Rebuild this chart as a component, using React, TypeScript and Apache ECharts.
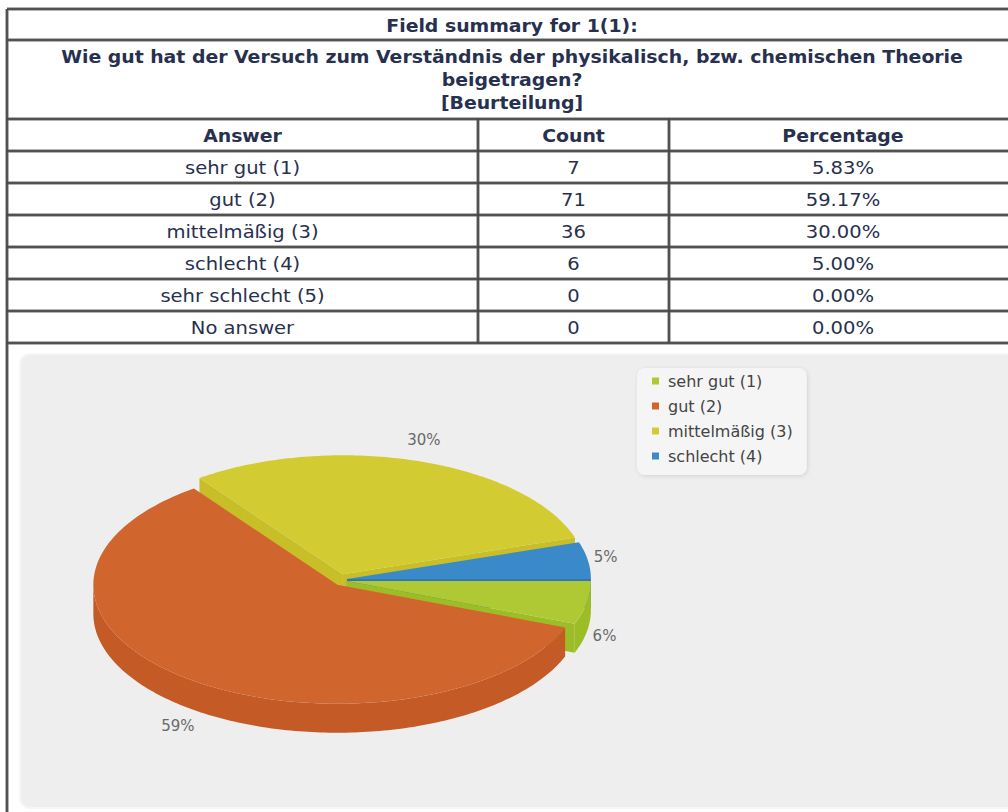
import React, { useEffect, useRef } from "react";
import * as echarts from "echarts";

// ---------- data ----------
const fieldTitle = "Field summary for 1(1):";
const questionLines = [
  "Wie gut hat der Versuch zum Verständnis der physikalisch, bzw. chemischen Theorie",
  "beigetragen?",
  "[Beurteilung]",
];
const headers = ["Answer", "Count", "Percentage"];
const answers = ["sehr gut (1)", "gut (2)", "mittelmäßig (3)", "schlecht (4)", "sehr schlecht (5)", "No answer"];
const counts = [7, 71, 36, 6, 0, 0];
const topColors = ["#afc935", "#d0652e", "#d3cb32", "#3a89c9"];
const sideColors = ["#9cbd26", "#c45a25", "#c7be28", "#2e77b5"];

// ---------- derived ----------
const total = counts.reduce((a, b) => a + b, 0);
const percentages = counts.map((c) => ((c / total) * 100).toFixed(2) + "%");
const pieIdx = counts.map((c, i) => i).filter((i) => counts[i] > 0);
const startAngles: number[] = [];
{
  let acc = 0;
  pieIdx.forEach((i) => {
    startAngles.push(acc);
    acc += (counts[i] / total) * 360;
  });
}

// ---------- layout ----------
const FONT = "DejaVu Sans";
const TEXT_COLOR = "#27304f";
const COL_X = [7, 478, 669, 1017];
const ROW_Y = [9, 40, 119, 151, 183, 215, 247, 279, 311, 343];
const CX = 341, CY = 580, RX = 244, RY = 119, DEPTH = 29, SPLICE = 6, LABEL_OFF = 18;

const rad = (d: number) => (d * Math.PI) / 180;

function makeRender(k: number) {
  return (params: any, api: any) => {
    const v = api.value(0);
    const a0 = startAngles[k];
    const a1 = a0 + (v / total) * 360;
    const m = rad((a0 + a1) / 2);
    const cx = CX + SPLICE * Math.cos(m);
    const cy = CY + SPLICE * Math.sin(m);
    const pt = (deg: number, dy = 0) => [cx + RX * Math.cos(rad(deg)), cy + RY * Math.sin(rad(deg)) + dy];
    const arc = (from: number, to: number, dy: number) => {
      const pts: number[][] = [];
      const n = Math.max(2, Math.ceil(Math.abs(to - from)));
      for (let i = 0; i <= n; i++) pts.push(pt(from + ((to - from) * i) / n, dy));
      return pts;
    };
    const side = sideColors[k];
    const children: any[] = [];
    const w0 = Math.max(a0, 0), w1 = Math.min(a1, 180);
    if (w1 > w0) {
      children.push({
        type: "polygon",
        z2: 6,
        shape: { points: [...arc(w0, w1, 0), ...arc(w1, w0, DEPTH)] },
        style: { fill: side },
      });
    }
    const face = (deg: number) => ({
      type: "polygon",
      z2: 2 + 3 * Math.sin(rad(deg)),
      shape: { points: [[cx, cy], pt(deg), pt(deg, DEPTH), [cx, cy + DEPTH]] },
      style: { fill: side },
    });
    if (Math.cos(rad(a0)) < -1e-6) children.push(face(a0));
    if (Math.cos(rad(a1)) > 1e-6) children.push(face(a1));
    children.push({
      type: "polygon",
      z2: 10,
      shape: { points: [[cx, cy], ...arc(a0, a1, 0)] },
      style: { fill: topColors[k] },
    });
    const sm = Math.sin(m);
    const lx = cx + Math.cos(m) * (RX + LABEL_OFF);
    const ly = cy + sm * (RY + LABEL_OFF + 4) + (sm > 0 ? DEPTH : 0);
    children.push({
      type: "text",
      z2: 20,
      x: lx,
      y: ly,
      style: {
        text: Math.round((v / total) * 100) + "%",
        fill: "#6a6a6a",
        fontFamily: FONT,
        fontSize: 15,
        align: "center",
        verticalAlign: "middle",
      },
    });
    return { type: "group", children };
  };
}

function buildGraphic() {
  const els: any[] = [];
  // chart panel
  els.push({
    type: "rect",
    z: -5,
    shape: { x: 20, y: 354, width: 1010, height: 454, r: 10 },
    style: { fill: "#eeeeee", stroke: "#f6f6f6", lineWidth: 2 },
  });
  const line = (x1: number, y1: number, x2: number, y2: number) => {
    els.push({
      type: "line",
      z: 5,
      shape: { x1, y1, x2, y2 },
      style: { stroke: "#6a6a6a", lineWidth: 3 },
    });
    els.push({
      type: "line",
      z: 6,
      shape: { x1, y1, x2, y2 },
      style: { stroke: "#3a3a3a", lineWidth: 1 },
    });
  };
  ROW_Y.forEach((y) => line(COL_X[0], y, COL_X[3], y));
  line(COL_X[0], ROW_Y[0], COL_X[0], 812);
  line(COL_X[3], ROW_Y[0], COL_X[3], 812);
  for (let c = 1; c <= 2; c++) line(COL_X[c], ROW_Y[2], COL_X[c], ROW_Y[ROW_Y.length - 1]);

  const midX = (COL_X[0] + COL_X[3]) / 2;
  const txt = (text: string, x: number, y: number, bold: boolean) =>
    els.push({
      type: "text",
      z: 7,
      x,
      y,
      scaleX: bold ? 1.11 : 1.15,
      style: {
        text,
        fill: TEXT_COLOR,
        fontFamily: FONT,
        fontSize: 17,
        fontWeight: bold ? "bold" : "normal",
        align: "center",
        verticalAlign: "middle",
      },
    });
  txt(fieldTitle, midX, (ROW_Y[0] + ROW_Y[1]) / 2 + 1, true);
  questionLines.forEach((q, i) => txt(q, midX, 57 + i * 23, true));
  const colMid = [0, 1, 2].map((c) => (COL_X[c] + COL_X[c + 1]) / 2);
  headers.forEach((h, c) => txt(h, colMid[c], (ROW_Y[2] + ROW_Y[3]) / 2 + 1, true));
  answers.forEach((a, r) => {
    const y = (ROW_Y[3 + r] + ROW_Y[4 + r]) / 2 + 1;
    txt(a, colMid[0], y, false);
    txt(String(counts[r]), colMid[1], y, false);
    txt(percentages[r], colMid[2], y, false);
  });
  return els;
}

export default function App() {
  const ref = useRef<HTMLDivElement>(null);
  useEffect(() => {
    if (!ref.current) return;
    const chart = echarts.init(ref.current, null, { renderer: "svg" });
    chart.setOption({
      animation: false,
      backgroundColor: "#ffffff",
      legend: {
        data: pieIdx.map((i) => answers[i]),
        orient: "vertical",
        left: 637,
        top: 368,
        backgroundColor: "#f6f5f6",
        borderRadius: 8,
        padding: [4, 14, 10, 15],
        itemWidth: 7,
        itemHeight: 7,
        itemGap: 7,
        icon: "rect",
        selectedMode: false,
        shadowBlur: 4,
        shadowColor: "rgba(0,0,0,0.12)",
        shadowOffsetX: 1,
        shadowOffsetY: 1,
        textStyle: { fontFamily: FONT, fontSize: 16, color: "#444444", lineHeight: 18, padding: [0, 0, 0, 4] },
      },
      graphic: buildGraphic(),
      series: pieIdx.map((i, k) => ({
        type: "custom",
        name: answers[i],
        coordinateSystem: "none",
        silent: true,
        itemStyle: { color: topColors[k] },
        data: [[counts[i]]],
        renderItem: makeRender(k),
      })),
    });
    return () => chart.dispose();
  }, []);
  return (
    <div
      ref={ref}
      style={{ position: "absolute", left: 0, top: 0, width: 1008, height: 812 }}
    />
  );
}
